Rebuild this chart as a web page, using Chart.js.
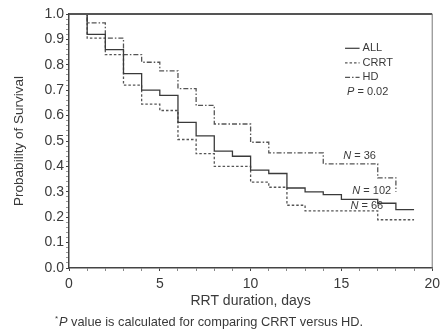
<!DOCTYPE html>
<html>
<head>
<meta charset="utf-8">
<script src="https://cdn.jsdelivr.net/npm/chart.js@4"></script>
<style>
html, body { margin: 0; background: #fff; }
#wrap { width: 445px; height: 335px; }
</style>
</head>
<body>
<div id="wrap"><canvas id="km"></canvas></div>
<script>
// Kaplan-Meier survival by RRT modality
var days = [0, 1, 2, 3, 4, 5, 6, 7, 8, 9, 10, 11, 12, 13, 14, 15, 16, 17, 18, 19];
var allSurv = [1.0, 0.92, 0.86, 0.765, 0.70, 0.68, 0.573, 0.52, 0.46, 0.44, 0.385, 0.372, 0.315, 0.30, 0.289, 0.27, 0.27, 0.255, 0.23, 0.23];
var crrtSurv = [1.0, 0.905, 0.84, 0.72, 0.645, 0.62, 0.506, 0.45, 0.40, 0.40, 0.338, 0.318, 0.247, 0.225, 0.225, 0.225, 0.225, 0.19, 0.19, 0.19];
var hdDays = [0, 1, 2, 3, 4, 5, 6, 7, 8, 9, 10, 11, 12, 13, 14, 15, 16, 17, 18];
var hdSurv = [1.0, 0.965, 0.905, 0.84, 0.81, 0.776, 0.706, 0.64, 0.567, 0.567, 0.495, 0.453, 0.453, 0.453, 0.41, 0.41, 0.41, 0.355, 0.30];
var groupNames = ['ALL', 'CRRT', 'HD'];
var groupN = [102, 66, 36];
var pValue = '0.02';
var xMajor = [0, 5, 10, 15, 20];
var yMajor = [0, 0.1, 0.2, 0.3, 0.4, 0.5, 0.6, 0.7, 0.8, 0.9, 1.0];

var FONT = '"Liberation Sans", Arial, Helvetica, sans-serif';
var INK = '#3a3a3a';
var dashes = [[], [2.5, 2], [5, 2, 1.5, 2]];
var lineColors = ['#3a3a3a', '#555555', '#555555'];

function toPoints(xs, ys) {
    return xs.map(function (d, i) { return { x: d, y: ys[i] }; });
}

function isMajor(v, list) {
    return list.some(function (m) { return Math.abs(m - v) < 1e-6; });
}

// mixed italic/regular text, left aligned
function drawParts(ctx, parts, x, y, size) {
    var cx = x;
    parts.forEach(function (p) {
        ctx.font = (p[1] ? 'italic ' : '') + size + 'px ' + FONT;
        ctx.fillText(p[0], cx, y);
        cx += ctx.measureText(p[0]).width;
    });
}

var decor = {
    id: 'decor',
    afterDatasetsDraw: function (chart) {
        var ctx = chart.ctx, a = chart.chartArea;
        var xs = chart.scales.x, ys = chart.scales.y;
        ctx.save();
        // box top and right
        ctx.strokeStyle = '#555';
        ctx.lineWidth = 2;
        ctx.beginPath();
        ctx.moveTo(a.left, a.top);
        ctx.lineTo(a.right, a.top);
        ctx.stroke();
        ctx.strokeStyle = '#777';
        ctx.lineWidth = 1;
        ctx.beginPath();
        ctx.moveTo(a.right, a.top);
        ctx.lineTo(a.right, a.bottom);
        ctx.stroke();

        // legend
        ctx.fillStyle = INK;
        ctx.textBaseline = 'middle';
        ctx.textAlign = 'left';
        var lx0 = xs.getPixelForValue(15.2), lx1 = xs.getPixelForValue(16.0);
        var ly = ys.getPixelForValue(0.865);
        for (var i = 0; i < groupNames.length; i++) {
            var yy = ly + i * 14.5;
            ctx.strokeStyle = lineColors[i];
            ctx.lineWidth = 1.2;
            ctx.setLineDash(dashes[i]);
            ctx.beginPath();
            ctx.moveTo(lx0, yy);
            ctx.lineTo(lx1, yy);
            ctx.stroke();
            ctx.setLineDash([]);
            ctx.font = '11px ' + FONT;
            ctx.fillText(groupNames[i], lx1 + 3, yy);
        }
        drawParts(ctx, [['P', true], [' = ' + pValue, false]], lx0 + 2, ly + 3 * 14.5, 11);

        // group sizes
        var nPos = [[15.6, 0.305], [15.5, 0.245], [15.1, 0.44]];
        for (var k = 0; k < groupN.length; k++) {
            drawParts(ctx, [['N', true], [' = ' + groupN[k], false]],
                xs.getPixelForValue(nPos[k][0]), ys.getPixelForValue(nPos[k][1]), 11);
        }

        // footnote
        ctx.font = '8px ' + FONT;
        ctx.fillText('*', 55, 319);
        drawParts(ctx, [['P', true], [' value is calculated for comparing CRRT versus HD.', false]], 59, 322, 12.8);
        ctx.restore();
    }
};

var datasets = [
    { label: groupNames[0], data: toPoints(days, allSurv) },
    { label: groupNames[1], data: toPoints(days, crrtSurv) },
    { label: groupNames[2], data: toPoints(hdDays, hdSurv) }
].map(function (ds, i) {
    ds.stepped = 'before';
    ds.borderColor = lineColors[i];
    ds.borderWidth = 1.3;
    ds.borderDash = dashes[i];
    ds.pointRadius = 0;
    ds.fill = false;
    return ds;
});

new Chart(document.getElementById('km'), {
    type: 'line',
    data: { datasets: datasets },
    options: {
        responsive: true,
        maintainAspectRatio: false,
        animation: false,
        layout: { padding: { top: 14, right: 8, bottom: 20, left: 0 } },
        plugins: { legend: { display: false }, tooltip: { enabled: false } },
        scales: {
            x: {
                type: 'linear',
                min: 0,
                max: 20,
                afterFit: function (s) { s.height = 47; },
                border: { display: true, color: '#444', width: 1.5 },
                grid: {
                    drawOnChartArea: false,
                    tickLength: 3,
                    tickColor: function (c) { return isMajor(c.tick.value, xMajor) ? '#444' : '#888'; }
                },
                ticks: {
                    stepSize: 1,
                    autoSkip: false,
                    maxRotation: 0,
                    padding: 5,
                    color: INK,
                    font: { family: FONT, size: 14 },
                    callback: function (v) { return isMajor(v, xMajor) ? String(v) : ''; }
                },
                title: {
                    display: true,
                    text: 'RRT duration, days',
                    color: INK,
                    font: { family: FONT, size: 14 },
                    padding: { top: 0, bottom: 5 }
                }
            },
            y: {
                min: 0,
                max: 1,
                afterFit: function (s) { s.width = 69; },
                border: { display: true, color: '#444', width: 1.5 },
                grid: {
                    drawOnChartArea: false,
                    tickLength: 3,
                    tickColor: function (c) { return isMajor(c.tick.value, yMajor) ? '#444' : '#999'; }
                },
                ticks: {
                    stepSize: 0.02,
                    autoSkip: false,
                    padding: 2,
                    color: INK,
                    font: { family: FONT, size: 14 },
                    callback: function (v) { return isMajor(v, yMajor) ? v.toFixed(1) : ''; }
                },
                title: {
                    display: true,
                    text: 'Probability of Survival',
                    color: INK,
                    font: { family: FONT, size: 13.5 },
                    padding: { top: 11, bottom: 0 }
                }
            }
        }
    },
    plugins: [decor]
});
</script>
</body>
</html>
